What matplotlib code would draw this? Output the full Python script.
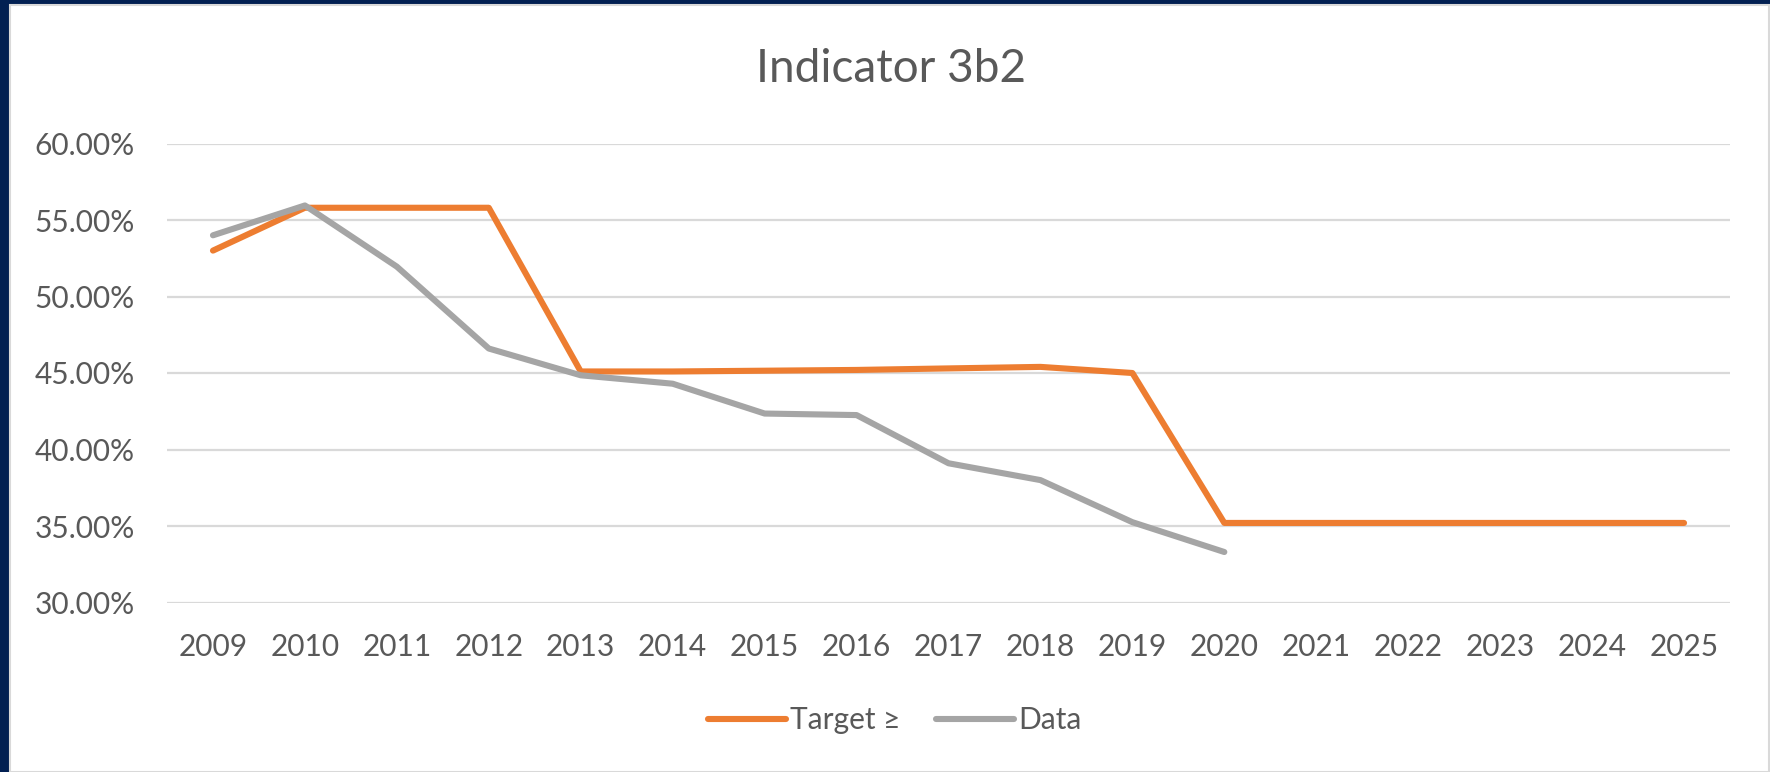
import matplotlib
matplotlib.use("Agg")
import matplotlib.pyplot as plt
from matplotlib.patches import Rectangle
from matplotlib.ticker import FuncFormatter

years = [str(y) for y in range(2009, 2026)]
target = [53.0, 55.8, 55.8, 55.8, 45.1, 45.1, 45.15, 45.2, 45.3, 45.4, 45.0,
          35.2, 35.2, 35.2, 35.2, 35.2, 35.2]
data = [54.0, 55.95, 51.95, 46.6, 44.85, 44.3, 42.35, 42.25, 39.1, 38.0, 35.25, 33.3]
yticks = [30, 35, 40, 45, 50, 55, 60]

plt.rcParams['font.family'] = ['Lato', 'DejaVu Sans']
TXT = '#595959'
ORANGE = '#ED7D31'
GRAY = '#A5A5A5'

fig = plt.figure(figsize=(17.7, 7.72), dpi=100)
fig.patch.set_facecolor('white')
# dark frame
fig.patches.append(Rectangle((0, 0), 1, 1, transform=fig.transFigure,
                             facecolor='#022052', edgecolor='none', zorder=-2))
fig.patches.append(Rectangle((10/1770, 0), (1769-10)/1770, (772-5)/772,
                             transform=fig.transFigure, facecolor='white',
                             edgecolor='#d9d9d9', linewidth=1.5, zorder=-1))

ax = fig.add_axes([167/1770, 1-602.5/772, (1730-167)/1770, (602.5-143.5)/772])
ax.set_zorder(2)
ax.set_facecolor('none')
x_t = list(range(len(target)))
x_d = list(range(len(data)))
ax.plot(x_t, target, color=ORANGE, lw=4.4, solid_capstyle='round',
        solid_joinstyle='round', label='Target ≥', zorder=3)
ax.plot(x_d, data, color=GRAY, lw=4.4, solid_capstyle='round',
        solid_joinstyle='round', label='Data', zorder=4)

ax.set_xlim(-0.5, len(years) - 0.5)
ax.set_ylim(30, 60)
ax.set_xticks(x_t)
ax.set_xticklabels(years)
ax.set_yticks(yticks)
ax.yaxis.set_major_formatter(FuncFormatter(lambda v, p: f"{v:.2f}%"))
ax.grid(axis='y', color='#d9d9d9', lw=1.6, zorder=0)
for s in ax.spines.values():
    s.set_visible(False)
ax.tick_params(axis='both', length=0, labelsize=21.5, colors=TXT)
ax.tick_params(axis='x', pad=22)
ax.tick_params(axis='y', pad=23)

fig.text(891/1770, 1-82/772, 'Indicator 3b2', ha='center', va='baseline',
         fontsize=33, color=TXT, zorder=3)

handles, labels = ax.get_legend_handles_labels()
leg = fig.legend(handles, labels, loc='center', bbox_to_anchor=(895/1770, 1-720/772),
                 ncol=2, frameon=False, fontsize=21.5, handlelength=2.6,
                 handletextpad=0.15, columnspacing=1.2)
leg.set_zorder(3)
for t in leg.get_texts():
    t.set_color(TXT)

fig.savefig('out.png', dpi=100)
